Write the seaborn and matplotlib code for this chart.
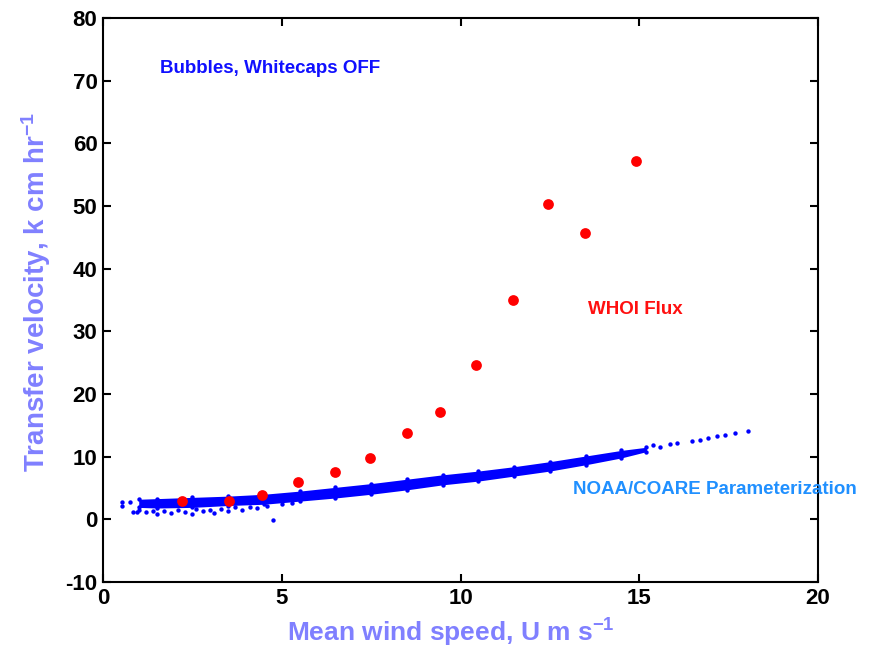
import matplotlib
matplotlib.use("Agg")
import matplotlib.pyplot as plt
import seaborn as sns
import pandas as pd

# WHOI Flux measurements (red)
whoi_wind = [2.22, 3.52, 4.46, 5.46, 6.49, 7.47, 8.49, 9.43, 10.43, 11.47, 12.45, 13.48, 14.91]
whoi_k = [3.0, 3.0, 3.9, 5.9, 7.5, 9.8, 13.7, 17.1, 24.6, 35.0, 50.3, 45.7, 57.2]

# NOAA/COARE parameterization: envelope of the dense core of the cloud
band_wind = [1.0, 1.5, 2.5, 3.5, 4.5, 5.5, 6.5, 7.5, 8.5, 9.5, 10.5, 11.5, 12.5, 13.5, 14.5, 15.2]
band_upper = [3.2, 3.3, 3.5, 3.7, 4.0, 4.5, 5.1, 5.7, 6.4, 7.1, 7.7, 8.4, 9.2, 10.1, 11.0, 11.5]
band_lower = [1.9, 1.8, 1.9, 2.2, 2.4, 2.9, 3.4, 4.0, 4.7, 5.5, 6.1, 6.9, 7.7, 8.7, 9.8, 10.8]

# NOAA/COARE individual points outside the dense core
sparse_wind = [0.52, 0.52, 0.75, 0.85, 0.95, 1.0, 1.2, 1.4, 1.5, 1.7, 1.9, 2.1, 2.3, 2.5,
               2.6, 2.8, 3.0, 3.1, 3.3, 3.5, 3.7, 3.9, 4.1, 4.3, 4.6, 4.76, 5.0, 5.3,
               15.39, 15.58, 15.86, 16.05, 16.47, 16.7, 16.93, 17.17, 17.4, 17.68, 18.05]
sparse_k = [2.8, 2.2, 2.7, 1.2, 1.1, 1.5, 1.2, 1.3, 0.9, 1.4, 1.0, 1.5, 1.2, 0.8,
            1.6, 1.3, 1.5, 1.0, 1.6, 1.3, 1.9, 1.5, 2.0, 1.8, 2.1, -0.1, 2.4, 2.6,
            11.8, 11.6, 12.0, 12.2, 12.5, 12.6, 12.9, 13.3, 13.4, 13.8, 14.1]

xticks = [0, 5, 10, 15, 20]
yticks = [-10, 0, 10, 20, 30, 40, 50, 60, 70, 80]

sns.set_theme(style="white")
plt.rcParams['font.family'] = ['Liberation Sans', 'DejaVu Sans']
plt.rcParams['mathtext.fontset'] = 'custom'
plt.rcParams['mathtext.rm'] = 'Liberation Sans:bold'
plt.rcParams['mathtext.it'] = 'Liberation Sans:bold'
plt.rcParams['mathtext.bf'] = 'Liberation Sans:bold'

fig = plt.figure(figsize=(8.75, 6.55), dpi=100)
ax = fig.add_axes([0.1177, 0.1115, 0.8172, 0.861])

blue = "#0000ff"
ax.fill_between(band_wind, band_lower, band_upper, color=blue, linewidth=0, zorder=2)
sns.scatterplot(x=band_wind, y=band_upper, ax=ax, color=blue, s=10, linewidth=0, zorder=2)
sns.scatterplot(x=band_wind, y=band_lower, ax=ax, color=blue, s=10, linewidth=0, zorder=2)
sns.scatterplot(x=sparse_wind, y=sparse_k, ax=ax, color=blue, s=10, linewidth=0, zorder=2)

df = pd.DataFrame({"wind": whoi_wind, "k": whoi_k})
sns.scatterplot(data=df, x="wind", y="k", ax=ax, color="#ff0000", s=60,
                linewidth=0, zorder=3)

ax.set_xlim(0, 20)
ax.set_ylim(-10, 80)
ax.set_xticks(xticks)
ax.set_yticks(yticks)
ax.set_xticklabels([str(t) for t in xticks], fontsize=16, fontweight="bold")
ax.set_yticklabels([str(t) for t in yticks], fontsize=16, fontweight="bold")
ax.tick_params(direction="in", length=6, width=1.5, top=True, right=True,
               bottom=True, left=True, colors="black", pad=4)
for sp in ax.spines.values():
    sp.set_visible(True)
    sp.set_color("black")
    sp.set_linewidth(1.5)

label_color = "#8080ff"
ax.set_xlabel("Mean wind speed, U m s$^{-1}$", fontsize=19, fontweight="bold",
              color=label_color)
ax.set_ylabel("Transfer velocity, k cm hr$^{-1}$", fontsize=20, fontweight="bold",
              color=label_color)
ax.xaxis.set_label_coords(0.487, -0.062)
ax.yaxis.set_label_coords(-0.07, 0.514)

ax.text(1.6, 72, "Bubbles, Whitecaps OFF", color="#1010ff", fontsize=13.5,
        fontweight="bold", va="center", ha="left")
ax.text(13.57, 33.5, "WHOI Flux", color="#ff1010", fontsize=13.5,
        fontweight="bold", va="center", ha="left")
ax.text(13.15, 4.7, "NOAA/COARE Parameterization", color="#2090ff", fontsize=13.5,
        fontweight="bold", va="center", ha="left", clip_on=False)

fig.savefig("out.png", dpi=100)
